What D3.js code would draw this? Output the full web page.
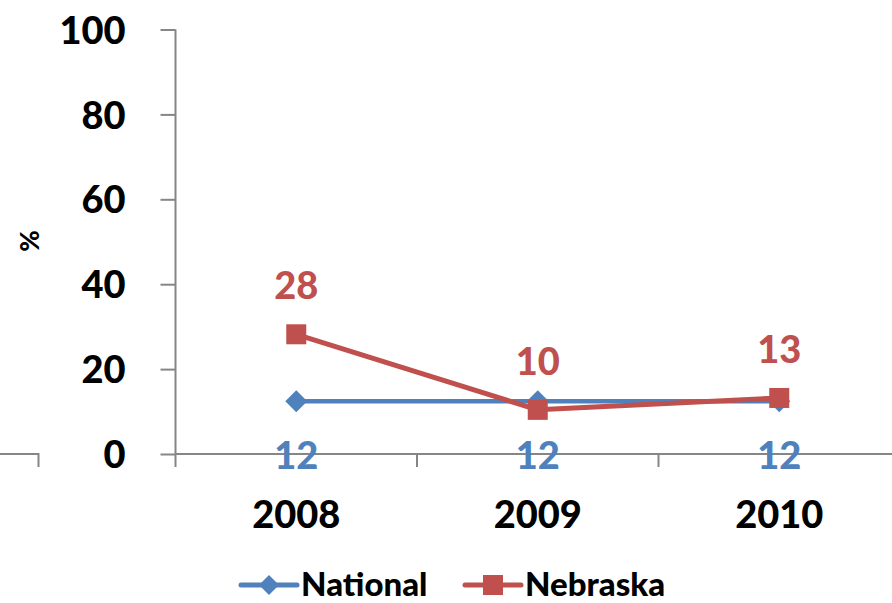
<!DOCTYPE html>
<html>
<head>
<meta charset="utf-8">
<script src="https://cdn.jsdelivr.net/npm/d3@7"></script>
<style>
  html, body { margin: 0; padding: 0; background: #fff; }
  svg { display: block; }
  text { font-family: Lato, "Open Sans", sans-serif; font-weight: 900; }
</style>
</head>
<body>
<svg id="chart" width="892" height="603"></svg>
<script>
// Survey share by year (percent)
const years = ["2008", "2009", "2010"];
const national = [12.4, 12.4, 12.4];
const nebraska = [28.2, 10.4, 13.2];
const yTicks = [0, 20, 40, 60, 80, 100];
const seriesNames = ["National", "Nebraska"];

const blue = "#4F81BD";
const red = "#C0504D";
const axisGrey = "#868686";

const svg = d3.select("#chart");

const y = d3.scaleLinear().domain([0, 100]).range([454, 29.5]);
const x = d3.scaleBand().domain(years).range([175.5, 900]).padding(0);
const cx = d => x(d) + x.bandwidth() / 2;

// Partial axis stub at the far left edge
svg.append("path")
  .attr("d", `M0,${y(0)}H38.5V467`)
  .attr("fill", "none")
  .attr("stroke", axisGrey)
  .attr("stroke-width", 2);

// Y axis
const yAxis = svg.append("g")
  .attr("transform", "translate(175.5,0)")
  .call(d3.axisLeft(y).tickValues(yTicks).tickSize(15).tickPadding(35));
yAxis.select(".domain").remove();
yAxis.selectAll(".tick line").attr("stroke", axisGrey).attr("stroke-width", 2);
yAxis.selectAll(".tick text")
  .attr("fill", "#000")
  .style("font-size", "38px")
  .attr("dy", "0.36em");
svg.append("line")
  .attr("x1", 175.5).attr("x2", 175.5)
  .attr("y1", y(100)).attr("y2", 467)
  .attr("stroke", axisGrey).attr("stroke-width", 2);

// X axis baseline and category boundary ticks
svg.append("line")
  .attr("x1", 175.5).attr("x2", 892)
  .attr("y1", y(0)).attr("y2", y(0))
  .attr("stroke", axisGrey).attr("stroke-width", 2);
svg.selectAll(".xtick")
  .data(years.slice(1))
  .join("line")
  .attr("class", "xtick")
  .attr("x1", d => x(d)).attr("x2", d => x(d))
  .attr("y1", y(0)).attr("y2", 467)
  .attr("stroke", axisGrey).attr("stroke-width", 2);
svg.selectAll(".xlabel")
  .data(years)
  .join("text")
  .attr("class", "xlabel")
  .attr("x", cx)
  .attr("y", 514)
  .attr("dy", "0.36em")
  .attr("text-anchor", "middle")
  .style("font-size", "38px")
  .attr("fill", "#000")
  .text(d => d);

// Y axis title
svg.append("text")
  .attr("transform", "translate(30,241) rotate(-90)")
  .attr("text-anchor", "middle")
  .attr("dy", "0.36em")
  .style("font-size", "26px")
  .attr("fill", "#000")
  .text("%");

const line = d3.line().x((d, i) => cx(years[i])).y(d => y(d));
const fmt = d3.format(".0f");

// National series
svg.append("path")
  .datum(national)
  .attr("d", line)
  .attr("fill", "none")
  .attr("stroke", blue)
  .attr("stroke-width", 4.5)
  .attr("stroke-linejoin", "round");
svg.selectAll(".natPt")
  .data(national)
  .join("path")
  .attr("class", "natPt")
  .attr("transform", (d, i) => `translate(${cx(years[i])},${y(d)})`)
  .attr("d", "M0,-11L11,0L0,11L-11,0Z")
  .attr("fill", blue);

// Nebraska series
svg.append("path")
  .datum(nebraska)
  .attr("d", line)
  .attr("fill", "none")
  .attr("stroke", red)
  .attr("stroke-width", 5)
  .attr("stroke-linejoin", "round");
svg.selectAll(".nebPt")
  .data(nebraska)
  .join("rect")
  .attr("class", "nebPt")
  .attr("x", (d, i) => cx(years[i]) - 10)
  .attr("y", d => y(d) - 10)
  .attr("width", 20).attr("height", 20)
  .attr("fill", red);

// Value labels
svg.selectAll(".natLbl")
  .data(national)
  .join("text")
  .attr("class", "natLbl")
  .attr("x", (d, i) => cx(years[i]))
  .attr("y", d => y(d) + 54)
  .attr("dy", "0.36em")
  .attr("text-anchor", "middle")
  .style("font-size", "38px")
  .attr("fill", blue)
  .text(d => fmt(d));
svg.selectAll(".nebLbl")
  .data(nebraska)
  .join("text")
  .attr("class", "nebLbl")
  .attr("x", (d, i) => cx(years[i]))
  .attr("y", d => y(d) - 49)
  .attr("dy", "0.36em")
  .attr("text-anchor", "middle")
  .style("font-size", "38px")
  .attr("fill", red)
  .text(d => fmt(d));

// Legend
const legend = svg.append("g").attr("transform", "translate(0,585)");
const legendItems = [
  { name: seriesNames[0], color: blue, x0: 241, shape: "diamond" },
  { name: seriesNames[1], color: red, x0: 465, shape: "square" }
];
legendItems.forEach(item => {
  const g = legend.append("g").attr("transform", `translate(${item.x0},0)`);
  g.append("line").attr("x1", 0).attr("x2", 56).attr("y1", 0).attr("y2", 0)
    .attr("stroke", item.color).attr("stroke-width", 5).attr("stroke-linecap", "round");
  if (item.shape === "diamond") {
    g.append("path").attr("transform", "translate(28,0)").attr("d", "M0,-10L10,0L0,10L-10,0Z").attr("fill", item.color);
  } else {
    g.append("rect").attr("x", 18).attr("y", -10).attr("width", 20).attr("height", 20).attr("fill", item.color);
  }
  g.append("text").attr("x", 60).attr("y", 0).attr("dy", "0.34em")
    .style("font-size", "33px").attr("fill", "#000").text(item.name);
});
</script>
</body>
</html>
